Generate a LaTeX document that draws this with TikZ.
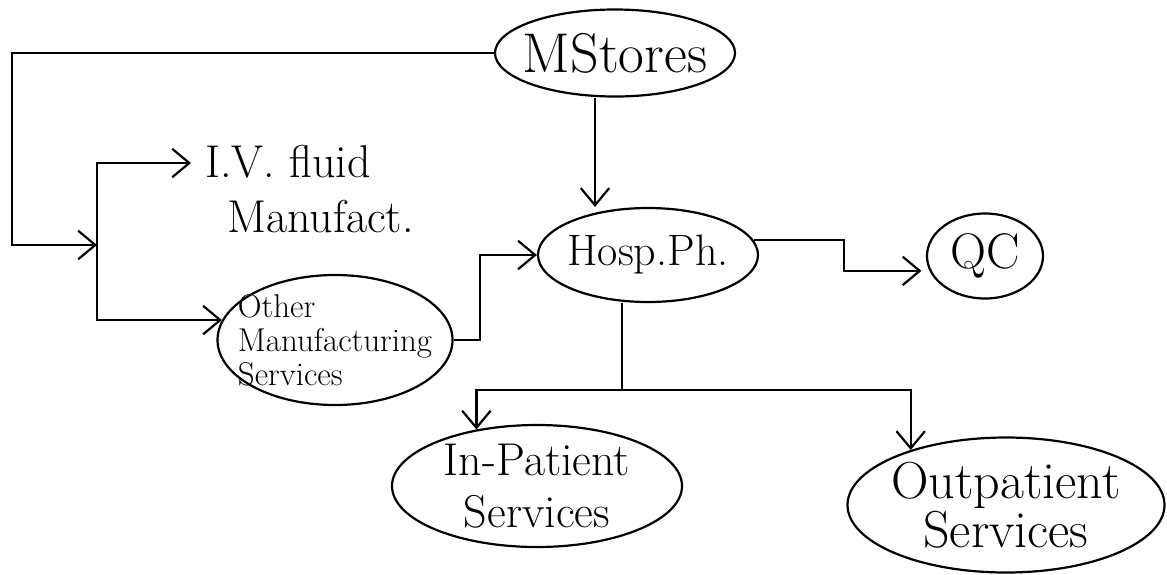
\documentclass[tikz,border=0pt]{standalone}
\usepackage{tikz}
\usetikzlibrary{shapes.geometric,arrows.meta,positioning,calc}
\tikzset{
  bub/.style  ={draw, ellipse, align=center, inner sep=0pt, line width=1.1pt},
  txt/.style  ={align=left, inner sep=0pt},
  flow/.style ={-{Straight Barb[length=3mm,width=5mm]}, line width=1.1pt},
  wire/.style ={line width=1.1pt},
}
\newcommand\hand{\fontsize{22}{26}\selectfont}
\newcommand\handsm{\fontsize{16.5}{17}\selectfont}

\begin{document}
\begin{tikzpicture}[x=0.5pt, y=-0.5pt]
\useasboundingbox (0,0) rectangle (1167,574);

\node[bub, font=\fontsize{28}{30}\selectfont, inner xsep=-8pt, inner ysep=-3pt,
      minimum width=120pt, minimum height=43.5pt] (stores) at (615,53) {MStores};
\node[bub, font=\hand, inner xsep=-4pt,
      minimum width=110pt, minimum height=47pt] (hospph) at (648,255) {Hosp.Ph.};
\node[bub, font=\fontsize{25}{28}\selectfont, inner xsep=-2pt,
      minimum width=58pt, minimum height=42.5pt] (qc) at (985,256) {QC};
\node[txt, font=\fontsize{23}{27.5}\selectfont, anchor=north west] (ivfluid) at (205,145)
  {I.V. fluid\\\hspace{11pt}Manufact.};
\node[bub, font=\handsm, align=left, inner xsep=-14pt, inner ysep=-20pt,
      minimum width=117.5pt, minimum height=65pt] (othermfg) at (335,340)
  {Other\\Manufacturing\\Services};
\node[bub, font=\fontsize{23}{26}\selectfont, inner xsep=-2pt, inner ysep=-10pt,
      minimum width=145pt, minimum height=61pt] (inpat) at (537,486)
  {In-Patient\\Services};
\node[bub, font=\fontsize{26}{23}\selectfont, inner xsep=-5pt, inner ysep=-10pt,
      minimum width=158.5pt, minimum height=67.5pt] (outpat) at (1006,505)
  {Outpatient\\Services};

\coordinate (trunk) at (12,150);
\coordinate (split) at (97,245);
\coordinate (fork)  at (622,390);

\draw[flow] (stores.west) -| (trunk) |- (split);
\draw[flow, shorten >=7pt] (split) |- ([yshift=-9pt]ivfluid.north west);
\draw[flow] (split) |- (othermfg.170);
\draw[flow] (othermfg.east) -- ++(13pt,0) |- (hospph.west);
\draw[flow] ([xshift=-10pt]stores.south) -- ([xshift=-10pt]stores.south |- hospph.north);
\draw[flow, shorten >=4pt] (hospph.8) -- ++(45pt,0) |- (qc.195);
\draw[wire] (hospph.south -| fork) -- (fork);
\draw[flow] (fork) -| (inpat.137);
\draw[flow] (fork) -| (outpat.150);

\end{tikzpicture}
\end{document}
